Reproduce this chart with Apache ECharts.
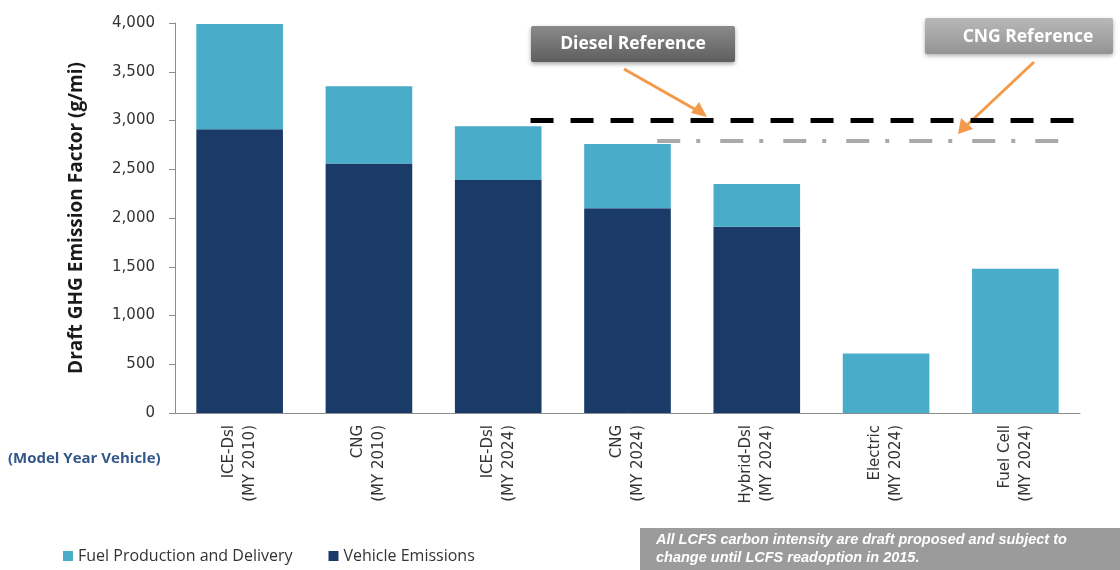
<!DOCTYPE html>
<html><head><meta charset="utf-8">
<script src="https://cdn.jsdelivr.net/npm/echarts@6/dist/echarts.min.js"></script>
<style>html,body{margin:0;padding:0;background:#fff}#c{width:1120px;height:570px}</style>
</head><body><div id="c"></div>
<script>
const categories = ['ICE-Dsl\n(MY 2010)','CNG\n(MY 2010)','ICE-Dsl\n(MY 2024)','CNG\n(MY 2024)','Hybrid-Dsl\n(MY 2024)','Electric\n(MY 2024)','Fuel Cell\n(MY 2024)'];
const vehicleEmissions = [2910, 2560, 2390, 2100, 1910, 0, 0];
const fuelProduction = [1080, 790, 550, 660, 440, 610, 1480];
const yTicks = [0, 500, 1000, 1500, 2000, 2500, 3000, 3500, 4000];
// reference lines: [category position (0..7), value]
const dieselRef = [[2.75, 3000], [6.98, 3000]];
const cngRef = [[3.73, 2790], [6.85, 2790]];

const chart = echarts.init(document.getElementById('c'));
const fmt = v => v.toLocaleString('en-US');
chart.setOption({
  animation: false,
  grid: {left: 175, right: 40, top: 23, bottom: 157},
  legend: {
    data: ['Fuel Production and Delivery', 'Vehicle Emissions'],
    left: 58, top: 543, itemWidth: 10, itemHeight: 10, itemGap: 36,
    icon: 'rect',
    textStyle: {fontFamily: '"Open Sans"', fontSize: 16, color: '#333'}
  },
  xAxis: [{
    type: 'category', data: categories,
    axisLine: {lineStyle: {color: '#8c8c8c'}},
    axisTick: {length: 7, lineStyle: {color: '#8c8c8c'}},
    axisLabel: {rotate: 90, fontFamily: '"DejaVu Sans"', fontSize: 15, color: '#333', margin: 12, lineHeight: 21, interval: 0}
  }, {
    type: 'value', min: 0, max: 7, show: false
  }],
  yAxis: {
    type: 'value', min: yTicks[0], max: yTicks[yTicks.length-1], interval: 500,
    name: 'Draft GHG Emission Factor (g/mi)', nameLocation: 'middle', nameGap: 89,
    nameTextStyle: {fontFamily: '"Open Sans"', fontWeight: 'bold', fontSize: 19, color: '#1a1a1a'},
    axisLine: {show: true, lineStyle: {color: '#8c8c8c'}},
    axisTick: {show: true, length: 6, lineStyle: {color: '#8c8c8c'}},
    splitLine: {show: false},
    axisLabel: {fontFamily: '"DejaVu Sans"', fontSize: 15, color: '#333', margin: 20, formatter: fmt}
  },
  series: [{
    name: 'Vehicle Emissions', type: 'bar', stack: 's', data: vehicleEmissions,
    barCategoryGap: '33%', itemStyle: {color: '#1a3a68'}
  }, {
    name: 'Fuel Production and Delivery', type: 'bar', stack: 's', data: fuelProduction,
    itemStyle: {color: '#49adc9'}
  }, {
    name: 'Diesel Reference', type: 'line', xAxisIndex: 1, data: dieselRef, symbol: 'none',
    lineStyle: {color: '#000', width: 5, type: [23, 17]}, z: 5
  }, {
    name: 'CNG Reference', type: 'line', xAxisIndex: 1, data: cngRef, symbol: 'none',
    lineStyle: {color: '#a9a9a9', width: 4, type: [23, 16, 4, 20]}, z: 5
  }],
  graphic: [
    {type: 'text', left: 8, top: 451, style: {text: '(Model Year Vehicle)', font: 'bold 15px "Open Sans"', fill: '#34578a'}},
    {type: 'rect', shape: {x: 531, y: 26, width: 204, height: 36, r: 2},
      style: {fill: new echarts.graphic.LinearGradient(0,0,0,1,[{offset:0,color:'#8a8a8a'},{offset:1,color:'#5e5e5e'}]), shadowBlur: 4, shadowColor: 'rgba(0,0,0,0.35)', shadowOffsetY: 2}},
    {type: 'text', x: 633, y: 44, style: {text: 'Diesel Reference', font: 'bold 17.5px "Open Sans"', fill: '#fff', align: 'center', verticalAlign: 'middle'}},
    {type: 'rect', shape: {x: 925, y: 18, width: 188, height: 36, r: 2},
      style: {fill: new echarts.graphic.LinearGradient(0,0,0,1,[{offset:0,color:'#b8b8b8'},{offset:1,color:'#939393'}]), shadowBlur: 4, shadowColor: 'rgba(0,0,0,0.3)', shadowOffsetY: 2}},
    {type: 'text', x: 1028, y: 37, style: {text: 'CNG Reference', font: 'bold 17.5px "Open Sans"', fill: '#fff', align: 'center', verticalAlign: 'middle'}},
    {type: 'line', shape: {x1: 624, y1: 69, x2: 698, y2: 111}, style: {stroke: '#f39a4a', lineWidth: 3}},
    {type: 'polygon', shape: {points: [[707, 117], [691, 113], [699, 102]]}, style: {fill: '#f39a4a'}},
    {type: 'line', shape: {x1: 1034, y1: 62, x2: 966, y2: 126}, style: {stroke: '#f39a4a', lineWidth: 3}},
    {type: 'polygon', shape: {points: [[958, 134], [961, 118], [973, 129]]}, style: {fill: '#f39a4a'}},
    {type: 'rect', shape: {x: 640, y: 528, width: 480, height: 42}, style: {fill: '#9b9b9b'}},
    {type: 'text', left: 656, top: 531, style: {text: 'All LCFS carbon intensity are draft proposed and subject to\nchange until LCFS readoption in 2015.', font: 'italic bold 14.5px "Liberation Sans"', fill: '#fff', lineHeight: 18}}
  ]
});
</script></body></html>
